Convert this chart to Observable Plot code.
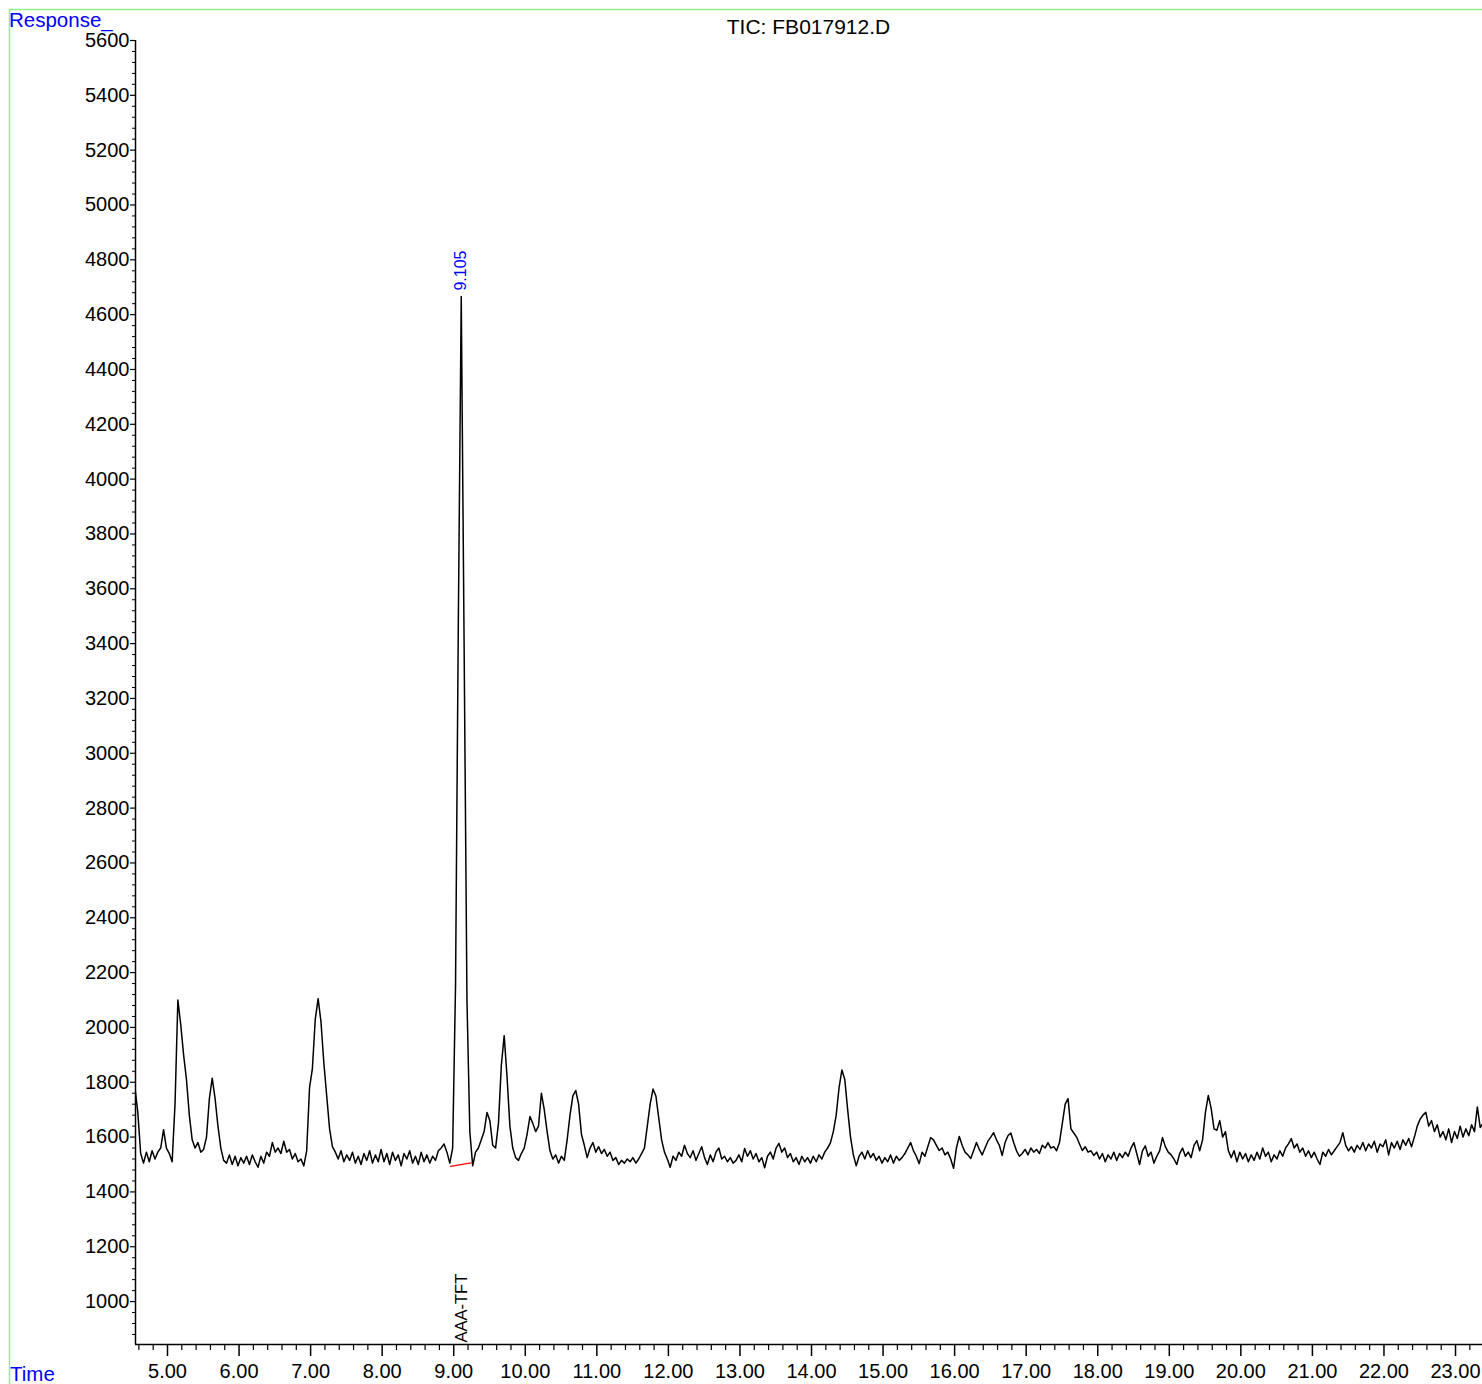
<!DOCTYPE html>
<html>
<head>
<meta charset="utf-8">
<script src="https://cdn.jsdelivr.net/npm/d3@7"></script>
<script src="https://cdn.jsdelivr.net/npm/@observablehq/plot@0.6"></script>
<style>
  html, body { margin: 0; padding: 0; background: #fff; }
  svg { display: block; }
</style>
</head>
<body>
<script>
// ---- Data ----
const chartTitle = "TIC: FB017912.D";
const yAxisName = "Response_";
const xAxisName = "Time";

// Detector sampling: first sample time and interval (minutes)
const sampleStart = 4.545;
const sampleStep = 0.04;

// Total ion current, one value per sample
const tic = [
1780,1690,1540,1505,1545,1510,1550,1520,1545,1560,1627,1560,1540,1510,1720,2100,2010,1900,1810,1680,1590,1560,1580,1545,1555,
1600,1740,1815,1740,1640,1560,1515,1505,1535,1500,1530,1495,1525,1505,1530,1500,1535,1510,1490,1530,1505,1545,1530,1580,1545,
1560,1540,1585,1545,1555,1520,1540,1510,1520,1495,1550,1780,1850,2030,2105,2020,1870,1750,1630,1565,1545,1520,1550,1510,1535,
1515,1545,1505,1530,1500,1540,1515,1550,1505,1535,1510,1555,1510,1540,1500,1545,1515,1535,1495,1540,1520,1550,1505,1530,1500,
1545,1510,1535,1505,1530,1515,1550,1560,1575,1545,1505,1560,2150,3500,4666,3400,2100,1620,1495,1545,1560,1590,1620,1690,1660,
1570,1560,1650,1860,1970,1820,1640,1560,1525,1515,1540,1560,1610,1675,1650,1620,1640,1760,1700,1620,1550,1520,1535,1505,1530,
1515,1590,1680,1750,1770,1720,1610,1570,1525,1560,1580,1545,1565,1540,1555,1530,1545,1515,1525,1500,1515,1505,1520,1510,1525,
1505,1520,1540,1560,1640,1720,1775,1750,1670,1590,1545,1520,1490,1530,1515,1545,1530,1570,1540,1525,1550,1515,1540,1565,1525,
1500,1535,1510,1545,1560,1520,1530,1510,1525,1505,1515,1535,1510,1558,1530,1550,1520,1540,1510,1525,1488,1530,1545,1520,1560,
1577,1545,1560,1525,1540,1510,1525,1500,1530,1510,1525,1505,1530,1510,1535,1520,1545,1560,1580,1620,1680,1780,1845,1810,1700,
1600,1535,1495,1530,1545,1520,1550,1525,1540,1515,1530,1505,1525,1510,1535,1505,1530,1515,1525,1540,1560,1580,1550,1530,1503,
1545,1530,1565,1598,1590,1570,1551,1560,1535,1545,1520,1486,1560,1602,1570,1545,1535,1522,1550,1580,1555,1535,1560,1585,1600,
1616,1590,1570,1533,1580,1605,1615,1580,1550,1530,1540,1555,1535,1560,1545,1555,1540,1570,1560,1580,1560,1565,1550,1580,1650,
1720,1740,1630,1615,1600,1575,1551,1565,1545,1550,1533,1545,1520,1540,1510,1535,1520,1545,1515,1540,1525,1545,1530,1560,1580,
1540,1500,1550,1568,1530,1545,1505,1530,1550,1598,1565,1545,1535,1520,1500,1540,1560,1530,1545,1525,1570,1587,1550,1590,1690,
1752,1705,1630,1625,1660,1600,1620,1551,1525,1550,1510,1545,1520,1540,1510,1535,1515,1545,1520,1560,1530,1545,1510,1535,1520,
1550,1530,1560,1575,1594,1560,1575,1545,1560,1530,1550,1525,1545,1520,1500,1545,1530,1555,1535,1550,1565,1580,1616,1570,1550,
1565,1545,1570,1555,1580,1550,1575,1560,1585,1545,1575,1565,1590,1535,1580,1560,1585,1555,1590,1570,1595,1565,1600,1640,1665,
1680,1690,1640,1660,1620,1645,1600,1620,1590,1630,1580,1620,1595,1640,1600,1630,1605,1645,1620,1710,1635,1650
];

// Integration baseline of the labelled peak (red)
const baselineTimes = [8.955, 9.244];
const baselineValues = [1493, 1506];

// Peak retention-time label and compound name
const peakTimes = [9.105];
const peakValues = [4666];
const peakLabels = ["9.105"];
const compoundNames = ["AAA-TFT"];

// Axis ticks
const xMajorTicks = [5,6,7,8,9,10,11,12,13,14,15,16,17,18,19,20,21,22,23];
const yMajorTicks = [1000,1200,1400,1600,1800,2000,2200,2400,2600,2800,3000,3200,3400,3600,3800,4000,4200,4400,4600,4800,5000,5200,5400,5600];
const xDomain = [4.5528, 23.377];
const yDomain = [843.4, 5600];

// ---- Build tables ----
const rows = tic.map((v, i) => ({t: +(sampleStart + i * sampleStep).toFixed(3), v}));
const baseline = baselineTimes.map((t, i) => ({t, v: baselineValues[i]}));
const peaks = peakTimes.map((t, i) => ({t, v: peakValues[i], label: peakLabels[i], name: compoundNames[i]}));
const xMinorTicks = d3.range(4.6, 23.4, 0.2).map(d => +d.toFixed(1)).filter(d => Math.abs(d - Math.round(d)) > 0.01);
const yMinorTicks = d3.range(880, 5600, 40).filter(d => d % 200 !== 0);

const FONT = '"Liberation Sans", Arial, Helvetica, sans-serif';

const chart = Plot.plot({
  width: 1482,
  height: 1384,
  marginLeft: 135,
  marginRight: 0,
  marginTop: 40,
  marginBottom: 40,
  style: {fontFamily: FONT, fontSize: "20px", color: "#000", background: "#fff", overflow: "visible"},
  x: {domain: xDomain},
  y: {domain: yDomain},
  marks: [
    Plot.axisY(yMinorTicks, {tickSize: 3, tickFormat: () => "", label: null, strokeWidth: 1}),
    Plot.axisY(yMajorTicks, {tickSize: 5, tickPadding: 1, tickFormat: d => String(d), label: null, strokeWidth: 1.2}),
    Plot.axisX(xMinorTicks, {tickSize: 6, tickFormat: () => "", label: null, strokeWidth: 1.2}),
    Plot.axisX(xMajorTicks, {tickSize: 12, tickPadding: 7, tickFormat: d3.format(".2f"), label: null, strokeWidth: 1.5}),
    Plot.ruleX([xDomain[0]], {y1: yDomain[0], y2: yDomain[1], stroke: "#000", strokeWidth: 1.5}),
    Plot.ruleY([yDomain[0]], {stroke: "#000", strokeWidth: 1.5}),
    Plot.line(rows, {x: "t", y: "v", stroke: "#000", strokeWidth: 1.5, clip: true}),
    Plot.line(baseline, {x: "t", y: "v", stroke: "#ff0000", strokeWidth: 1.3}),
    Plot.text(peaks, {x: "t", y: "v", text: "label", rotate: -90, textAnchor: "start", lineAnchor: "middle", dy: -6, fill: "#0000ff", fontSize: 16}),
    Plot.text(peaks, {x: "t", y: () => yDomain[0], text: "name", rotate: -90, textAnchor: "start", lineAnchor: "middle", dy: -2, fill: "#000", fontSize: 16.5})
  ]
});

const svg = d3.select(chart);
// light green outer frame
svg.insert("path", ":first-child")
  .attr("d", "M9.5,1400 V9.5 H1500")
  .attr("fill", "none")
  .attr("stroke", "#8ef08e")
  .attr("stroke-width", 1.5);
svg.append("text").attr("x", 9).attr("y", 27).attr("text-anchor", "start")
  .attr("fill", "#0000ff").attr("font-size", "20.5px").attr("font-family", FONT)
  .text(yAxisName);
svg.append("text").attr("x", 10).attr("y", 1381).attr("text-anchor", "start")
  .attr("fill", "#0000ff").attr("font-size", "20.5px").attr("font-family", FONT)
  .text(xAxisName);
svg.append("text").attr("x", 808.5).attr("y", 34).attr("text-anchor", "middle")
  .attr("fill", "#000").attr("font-size", "21px").attr("font-family", FONT)
  .text(chartTitle);

document.body.appendChild(chart);
</script>
</body>
</html>
